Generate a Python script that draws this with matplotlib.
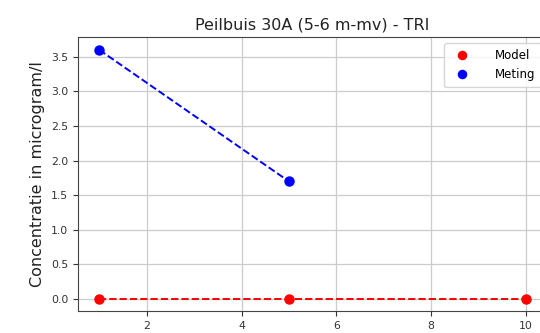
import matplotlib
matplotlib.use("Agg")
import matplotlib.pyplot as plt

# data
model_x = [1, 5, 10]
model_y = [0.0, 0.0, 0.0]
meting_x = [1, 5]
meting_y = [3.6, 1.7]

title = "Peilbuis 30A (5-6 m-mv) - TRI"
ylabel = "Concentratie in microgram/l"

fig = plt.figure(figsize=(5.4, 3.33), dpi=100)
# axes runs past the right edge, the reference is cropped there
ax = fig.add_axes([0.1444, 0.0646, 0.869, 0.823])

ax.plot(model_x, model_y, "o", color="red", markersize=6.5, label="Model")
ax.plot(model_x, model_y, "--", color="red", linewidth=1.4)
ax.plot(meting_x, meting_y, "o", color="blue", markersize=6.5, label="Meting")
ax.plot(meting_x, meting_y, "--", color="blue", linewidth=1.4)

ax.set_title(title, fontsize=11.5, color="#222222")
ax.set_ylabel(ylabel, fontsize=11.5, color="#222222")
ax.set_xticks([2, 4, 6, 8, 10])
ax.set_yticks([0.0, 0.5, 1.0, 1.5, 2.0, 2.5, 3.0, 3.5])
ax.tick_params(labelsize=7.8, labelcolor="#333333", colors="#333333")
ax.grid(True, color="#cccccc", linewidth=0.9)
for s in ax.spines.values():
    s.set_color("#444444")

ax.legend(loc="upper right", fontsize=8.5, handletextpad=1.8, borderpad=0.5,
          markerscale=0.9)

fig.savefig("out.png", dpi=100)
